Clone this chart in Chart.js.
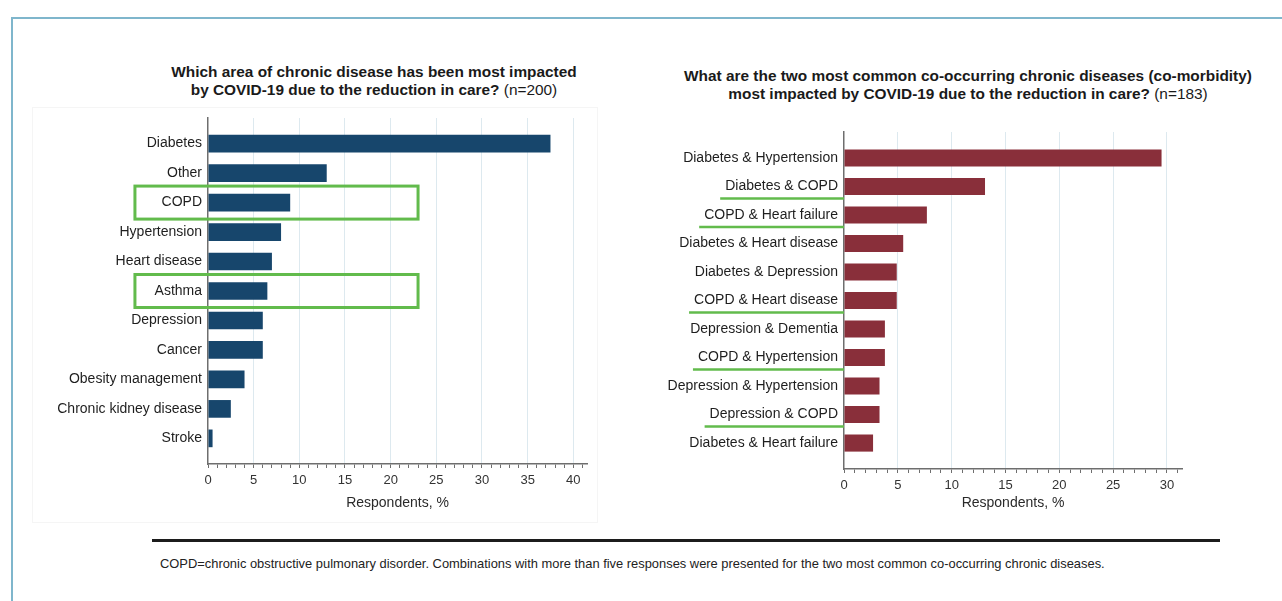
<!DOCTYPE html>
<html>
<head>
<meta charset="utf-8">
<script src="https://cdn.jsdelivr.net/npm/chart.js@4"></script>
<style>
  body { margin: 0; background: #fff; font-family: "Liberation Sans", Arial, sans-serif; color: #1a1a1a; }
  #page { position: relative; width: 1282px; height: 601px; overflow: hidden; }
  .frame { position: absolute; left: 11px; top: 17px; right: -5px; bottom: -5px; border-left: 2px solid #7fb6cc; border-top: 2px solid #7fb6cc; }
  .panel { position: absolute; border: 1px solid #f5f5f5; }
  .title { position: absolute; text-align: center; font-weight: bold; font-size: 15.4px; white-space: nowrap; line-height: 18px; }
  .title span { font-weight: normal; }
  .chart { position: absolute; }
  #rule { position: absolute; left: 152px; top: 539px; width: 1068px; height: 0; border-top: 3px solid #1c1c1c; }
  #note { position: absolute; left: 160px; top: 556px; font-size: 12.9px; white-space: nowrap; color: #222; }
</style>
</head>
<body>
<div id="page">
  <div class="frame"></div>
  <div class="panel" style="left:32px;top:107px;width:564px;height:414px"></div>
  <div class="title" style="left:124px;width:500px;top:63px">Which area of chronic disease has been most impacted<br>by COVID-19 due to the reduction in care? <span>(n=200)</span></div>
  <div class="title" style="left:618px;width:700px;top:67px">What are the two most common co-occurring chronic diseases (co-morbidity)<br>most impacted by COVID-19 due to the reduction in care? <span>(n=183)</span></div>
  <div class="chart" style="left:20px;top:100px;width:590px;height:430px"><canvas id="gauche"></canvas></div>
  <div class="chart" style="left:640px;top:100px;width:570px;height:430px"><canvas id="direita"></canvas></div>
  <div id="rule"></div>
  <div id="note">COPD=chronic obstructive pulmonary disorder. Combinations with more than five responses were presented for the two most common co-occurring chronic diseases.</div>
</div>
<script>
// dados
const doencas = ['Diabetes', 'Other', 'COPD', 'Hypertension', 'Heart disease', 'Asthma', 'Depression', 'Cancer', 'Obesity management', 'Chronic kidney disease', 'Stroke'];
const doencas_pct = [37.5, 13, 9, 8, 7, 6.5, 6, 6, 4, 2.5, 0.5];
const doencas_destaque = ['COPD', 'Asthma'];

const combinacoes = ['Diabetes & Hypertension', 'Diabetes & COPD', 'COPD & Heart failure', 'Diabetes & Heart disease', 'Diabetes & Depression', 'COPD & Heart disease', 'Depression & Dementia', 'COPD & Hypertension', 'Depression & Hypertension', 'Depression & COPD', 'Diabetes & Heart failure'];
const combinacoes_pct = [29.5, 13.1, 7.7, 5.5, 4.9, 4.9, 3.8, 3.8, 3.3, 3.3, 2.7];
const combinacoes_destaque = ['Diabetes & COPD', 'COPD & Heart failure', 'COPD & Heart disease', 'COPD & Hypertension', 'Depression & COPD'];

const ticks_gauche = [0, 5, 10, 15, 20, 25, 30, 35, 40];
const ticks_direita = [0, 5, 10, 15, 20, 25, 30];
const eixo_titulo = 'Respondents, %';

const FONTE = '"Liberation Sans", Arial, sans-serif';
const VERDE = '#62bb4c';
Chart.defaults.font.family = FONTE;
Chart.defaults.color = '#222';

// caixas verdes em volta das categorias (grafico da esquerda)
const caixas = {
  id: 'caixas',
  afterDatasetsDraw(chart, args, opts) {
    if (!opts.labels) return;
    const { ctx, scales: { x, y } } = chart;
    ctx.save();
    ctx.strokeStyle = VERDE;
    ctx.lineWidth = 3;
    opts.labels.forEach((lab) => {
      const i = opts.categorias.indexOf(lab);
      const y1 = y.getPixelForValue(i - 0.56), y2 = y.getPixelForValue(i + 0.56);
      const x1 = x.getPixelForValue(opts.de), x2 = x.getPixelForValue(opts.ate);
      ctx.strokeRect(x1, y1, x2 - x1, y2 - y1);
    });
    ctx.restore();
  },
};

// sublinhado verde (grafico da direita)
const sublinhado = {
  id: 'sublinhado',
  afterDatasetsDraw(chart, args, opts) {
    if (!opts.labels) return;
    const { ctx, scales: { x, y } } = chart;
    ctx.save();
    ctx.strokeStyle = VERDE;
    ctx.lineWidth = 2.5;
    ctx.font = '14px ' + FONTE;
    const x0 = x.getPixelForValue(0);
    opts.labels.forEach((lab) => {
      const i = opts.categorias.indexOf(lab);
      const w = ctx.measureText(lab).width;
      const yy = y.getPixelForValue(i + 0.42);
      ctx.beginPath();
      ctx.moveTo(x0 - 6 - w - 5, yy);
      ctx.lineTo(x0, yy);
      ctx.stroke();
    });
    ctx.restore();
  },
};

function montar_grafico(idElemento, cfg) {
  const el = document.getElementById(idElemento);
  if (!el) throw `${idElemento} não encontrado!`;
  const n = cfg.categorias.length;
  return new Chart(el, {
    type: 'bar',
    data: {
      datasets: [{
        data: cfg.valores.map((v, i) => ({ x: v, y: i })),
        backgroundColor: cfg.cor,
        borderColor: cfg.cor,
        borderWidth: 0,
        barPercentage: 0.6,
        categoryPercentage: 1,
      }],
    },
    plugins: [caixas, sublinhado],
    options: {
      indexAxis: 'y',
      responsive: true,
      maintainAspectRatio: false,
      animation: false,
      layout: { padding: { top: cfg.padTop, right: cfg.padRight, left: 0, bottom: 0 } },
      plugins: {
        legend: { display: false },
        tooltip: { enabled: false },
        caixas: cfg.caixas || {},
        sublinhado: cfg.sublinhado || {},
      },
      scales: {
        y: {
          type: 'linear',
          reverse: true,
          offset: false,
          min: -cfg.margem,
          max: n - 1 + cfg.margem,
          afterBuildTicks: (s) => { s.ticks = cfg.categorias.map((_, i) => ({ value: i })); },
          afterFit: (s) => { s.width = cfg.larguraY; },
          ticks: {
            autoSkip: false,
            padding: 6,
            color: '#1e1e1e',
            font: { size: 14 },
            callback: (v) => cfg.categorias[v],
          },
          grid: { color: 'transparent', drawTicks: false, offset: false },
          border: { display: true, color: '#6e6e6e', width: 1.5 },
        },
        x: {
          type: 'linear',
          min: 0,
          max: cfg.xmax,
          afterBuildTicks: (s) => {
            const t = [];
            for (let v = 0; v <= Math.floor(cfg.xmax); v++) t.push({ value: v });
            s.ticks = t;
          },
          afterFit: (s) => { s.height = cfg.alturaX; },
          ticks: {
            autoSkip: false,
            maxRotation: 0,
            padding: 5,
            color: '#333',
            font: { size: 13 },
            callback: (v) => (cfg.ticks.includes(v) ? String(v) : ''),
          },
          grid: {
            color: (c) => (c.tick && cfg.ticks.includes(c.tick.value) && c.tick.value !== 0 ? '#dde9ef' : 'transparent'),
            tickColor: '#6e6e6e',
            tickLength: 4,
            lineWidth: 1,
          },
          border: { display: true, color: '#6e6e6e', width: 1.5 },
          title: {
            display: true,
            text: eixo_titulo,
            color: '#2a2a2a',
            font: { size: 14 },
            padding: { top: 6, bottom: 18 },
          },
        },
      },
    },
  });
}

montar_grafico('gauche', {
  categorias: doencas,
  valores: doencas_pct,
  ticks: ticks_gauche,
  cor: '#17466c',
  xmax: 41.5,
  margem: 0.87,
  larguraY: 188,
  alturaX: 66,
  padTop: 18,
  padRight: 23,
  caixas: { labels: doencas_destaque, categorias: doencas, de: -8, ate: 23 },
});

montar_grafico('direita', {
  categorias: combinacoes,
  valores: combinacoes_pct,
  ticks: ticks_direita,
  cor: '#892f3a',
  xmax: 31.4,
  margem: 0.91,
  larguraY: 204,
  alturaX: 61,
  padTop: 32,
  padRight: 28,
  sublinhado: { labels: combinacoes_destaque, categorias: combinacoes },
});
</script>
</body>
</html>
